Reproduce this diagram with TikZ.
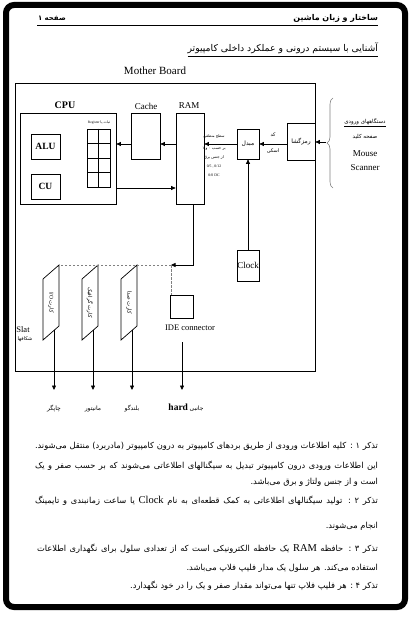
\documentclass[tikz,border=0pt]{standalone}
\usepackage{fontspec}
\setmainfont{Liberation Serif}
\newfontfamily\fafont[Script=Arabic]{DejaVu Sans}
\TeXXeTstate=1
\usetikzlibrary{arrows.meta,decorations.pathreplacing}
\newcommand\fs[1]{\fontsize{#1}{#1}\selectfont}
\newcommand\lat[1]{{\fontspec{Liberation Serif}\fs{10.5}#1}}
\begin{document}
\begin{tikzpicture}[x=1pt,y=-1pt,
  blk/.style={draw,line width=0.7pt,inner sep=0pt},
  txt/.style={inner sep=0pt,outer sep=0pt},
  arr/.style={-{Triangle[length=4.5pt,width=4pt]},line width=0.7pt},
  dsh/.style={gray,line width=0.6pt,dash pattern=on 2.5pt off 1.5pt},
  body/.style={txt,anchor=base east,font=\fs{8.3}\fafont}]
\useasboundingbox (0,0) rectangle (411,618);
\draw[line width=6pt,rounded corners=8pt] (6,5) rectangle (405,607);
% header
\node[txt,anchor=east,font=\fs{8}\bfseries\fafont] (hdr) at (378,18) {\beginR ساختار و زبان ماشین\endR};
\node[txt,anchor=west,font=\fs{7}\bfseries\fafont] (pg) at (38,18) {\beginR صفحه ۱\endR};
\draw[line width=1.8pt] (37,25.5) -- (378,25.5);
\node[txt,anchor=east,font=\fs{9.3}\fafont] (ttl) at (378,48) {\beginR آشنایی با سیستم درونی و عملکرد داخلی کامپیوتر\endR};
\coordinate (ul) at (0,56);
\draw[line width=0.7pt] (ttl.west |- ul) -- (ttl.east |- ul);
\node[txt,font=\fs{11}] (mbl) at (155,71) {Mother Board};
% boxes
\node[blk,minimum width=300pt,minimum height=288pt] (mb) at (165,227) {};
\node[txt,font=\fs{10}\bfseries] (cpul) at (65,105) {CPU};
\node[blk,minimum width=96pt,minimum height=91pt] (cpu) at (68,158.5) {};
\node[blk,minimum width=29pt,minimum height=25pt,font=\fs{9.5}\bfseries] (alu) at (45.5,146.5) {ALU};
\node[blk,minimum width=29pt,minimum height=25pt,font=\fs{9.5}\bfseries] (cu) at (45.5,186.5) {CU};
\node[blk,minimum width=23pt,minimum height=58pt] (reg) at (98.5,158) {};
\draw[line width=0.7pt] (reg.north) -- (reg.south);
\foreach \yy in {143.5,158,172.5} \draw[line width=0.7pt] (87,\yy) -- (110,\yy);
\node[txt,font=\fs{3.5}] (regl) at (99,123) {Register {\fafont\beginR ثبات یا\endR}};
\node[txt,font=\fs{9}] (cachel) at (146,106) {Cache};
\node[blk,minimum width=29pt,minimum height=46pt] (cache) at (145.5,136) {};
\node[txt,font=\fs{9}] (raml) at (189,106) {RAM};
\node[blk,minimum width=28pt,minimum height=91pt] (ram) at (190,158.5) {};
\node[blk,minimum width=22pt,minimum height=30pt,font=\fs{6}\fafont] (conv) at (248,144) {\beginR مبدل\endR};
\node[blk,minimum width=22pt,minimum height=31pt,font=\fs{9}] (clock) at (248,265.5) {Clock};
\node[blk,minimum width=28pt,minimum height=37pt,font=\fs{6}\fafont] (enc) at (301,141.5) {\beginR رمزگشا\endR};
\node[blk,minimum width=23pt,minimum height=23pt] (ide) at (181.5,306.5) {};
\node[txt,font=\fs{8.5}] (idel) at (190,328) {IDE connector};
% arrows
\draw[arr] (ram.west |- conv) -- (cache.east |- conv);
\draw[arr] (cache.west |- conv) -- (cpu.east |- conv);
\draw[arr] (conv.west) -- (ram.east |- conv);
\draw[arr] (enc.west |- conv) -- (conv.east);
\coordinate (yb) at (0,188);
\draw[arr] (cpu.east |- yb) -- (ram.west |- yb);
\draw[arr] (clock.north) -- (conv.south);
% small labels
\node[txt,font=\fs{3.8}\fafont] (sl) at (214,136.5) {\beginR سطح منطقی\endR};
\node[txt,font=\fs{3.8}\fafont] (sl1) at (214,149) {\beginR بر حسب ۰ و ۱\endR};
\node[txt,font=\fs{3.8}\fafont] (sl2) at (214,158) {\beginR از جنس برق\endR};
\node[txt,font=\fs{3.8}] (sl3) at (214,167) {0/5 , 0/12};
\node[txt,font=\fs{3.8}] (sl4) at (214,175) {0/0 DC};
\node[txt,font=\fs{5}\fafont] (kd) at (273,135) {\beginR کد\endR};
\node[txt,font=\fs{5}\fafont] (sk) at (273,151) {\beginR اسکی\endR};
% brace and input devices
\draw[gray,line width=0.6pt,decorate,decoration={brace,amplitude=6pt}] (333,188) -- (333,98);
\coordinate (bt) at (326,142);
\draw[arr] (bt) -- (enc.east |- bt);
\node[txt,font=\fs{5.5}\fafont] (inl) at (365,122) {\beginR دستگاههای ورودی\endR};
\draw[line width=0.5pt] ([yshift=-1.5pt]inl.south west) -- ([yshift=-1.5pt]inl.south east);
\node[txt,font=\fs{5.5}\fafont] (kb) at (365,137) {\beginR صفحه کلید\endR};
\node[txt,font=\fs{9}] (ms) at (365,154) {Mouse};
\node[txt,font=\fs{9}] (sc) at (365,168) {Scanner};
% slots
\foreach \L/\t/\n in {43/{I/O {\fafont\beginR کارت\endR}}/1, 82/{{\fafont\beginR کارت گرافیک\endR}}/2, 121/{{\fafont\beginR کارت صدا\endR}}/3}{
  \draw[line width=0.7pt] (\L,279) -- (\L+16,265) -- (\L+16,326) -- (\L,340) -- cycle;
  \coordinate (s\n tr) at (\L+16,265);
  \coordinate (s\n b) at (\L+11,330.4);
  \coordinate (s\n e) at (\L+11,390);
  \node[txt,rotate=-90,font=\fs{5.5}] (st\n) at (\L+8,302.5) {\t};
}
\coordinate (jn) at (171,265);
\draw[arr] ([xshift=3pt]ram.south) |- (jn);
\draw[dsh] (jn) -- (s1tr);
\draw[dsh] (jn) -- (jn |- ide.north);
\draw[arr] (s1b) -- (s1e);
\draw[arr] (s2b) -- (s2e);
\draw[arr] (s3b) -- (s3e);
\coordinate (ib) at (182,342);
\coordinate (ie) at (182,390);
\draw[arr] (ib) -- (ie);
\node[txt,font=\fs{8.5}] (slat) at (23,330) {Slat};
\node[txt,font=\fs{5}\fafont] (slatf) at (25,339) {\beginR شکافها\endR};
\node[txt,font=\fs{6}\fafont] (o1) at (54,409) {\beginR چاپگر\endR};
\node[txt,font=\fs{6}\fafont] (o2) at (93,409) {\beginR مانیتور\endR};
\node[txt,font=\fs{6}\fafont] (o3) at (132,409) {\beginR بلندگو\endR};
\node[txt,font=\fs{6}] (o4) at (186,408) {{\fs{9.5}\bfseries hard} {\fafont\beginR جانبی\endR}};
% body text
\node[body] (l1) at (378,448) {\hbox to 343pt{\beginR تذکر ۱ : کلیه اطلاعات ورودی از طریق بردهای کامپیوتر به درون کامپیوتر (مادربرد) منتقل می‌شوند.\endR}};
\node[body] (l2) at (378,468) {\hbox to 343pt{\beginR این اطلاعات ورودی درون کامپیوتر تبدیل به سیگنالهای اطلاعاتی می‌شوند که بر حسب صفر و یک\endR}};
\node[body] (l3) at (378,484) {\beginR است و از جنس ولتاژ و برق می‌باشد.\endR};
\node[body] (l4) at (378,503) {\hbox to 343pt{\beginR تذکر ۲ : تولید سیگنالهای اطلاعاتی به کمک قطعه‌ای به نام \lat{Clock} یا ساعت زمانبندی و تایمینگ\endR}};
\node[body] (l5) at (378,528) {\beginR انجام می‌شوند.\endR};
\node[body] (l6) at (378,551) {\hbox to 341pt{\beginR تذکر ۳ : حافظه \lat{RAM} یک حافظه الکترونیکی است که از تعدادی سلول برای نگهداری اطلاعات\endR}};
\node[body] (l7) at (378,570) {\beginR استفاده می‌کند. هر سلول یک مدار فلیپ فلاپ می‌باشد.\endR};
\node[body] (l8) at (378,588) {\beginR تذکر ۴ : هر فلیپ فلاپ تنها می‌تواند مقدار صفر و یک را در خود نگهدارد.\endR};
\end{tikzpicture}
\end{document}
